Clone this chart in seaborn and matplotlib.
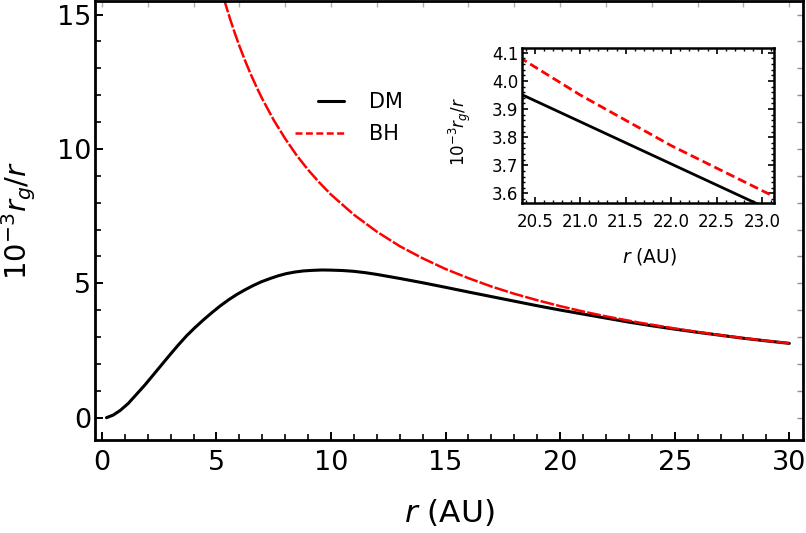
import numpy as np
import matplotlib
matplotlib.use("Agg")
import matplotlib.pyplot as plt
import seaborn as sns
from matplotlib.ticker import MultipleLocator
from matplotlib.lines import Line2D
from matplotlib.legend_handler import HandlerLine2D

# ---- data ----
dm_r = [0.2, 0.5, 0.8, 1.15, 1.5, 1.88, 2.25, 2.6, 2.95, 3.33, 3.7, 4.06, 4.42, 4.79,
        5.15, 5.52, 5.88, 6.24, 6.6, 6.97, 7.35, 7.7, 8.05, 8.43, 8.8, 9.16, 9.6, 10.0,
        10.5, 11.0, 11.5, 12.0, 13.0, 14.0, 15.0, 16.0, 17.0, 18.0, 19.0, 20.0, 20.5,
        21.0, 21.5, 22.0, 22.5, 23.0, 24.0, 25.0, 26.0, 27.0, 28.0, 29.0, 30.0]
dm_v = [0.00, 0.10, 0.27, 0.53, 0.86, 1.22, 1.60, 1.96, 2.32, 2.70, 3.05, 3.35, 3.63,
        3.90, 4.15, 4.38, 4.58, 4.755, 4.915, 5.06, 5.18, 5.28, 5.36, 5.42, 5.46, 5.48,
        5.495, 5.49, 5.475, 5.445, 5.395, 5.33, 5.18, 5.02, 4.85, 4.675, 4.505, 4.335,
        4.165, 4.005, 3.93, 3.855, 3.78, 3.705, 3.63, 3.555, 3.42, 3.294, 3.176, 3.066,
        2.955, 2.857, 2.765]

bh_r = [5.2, 5.4, 5.6, 5.8, 6.0, 6.25, 6.5, 6.75, 7.0, 7.5, 8.0, 8.5, 9.0, 9.5, 10.0,
        11.0, 12.0, 13.0, 14.0, 15.0, 16.0, 17.0, 18.0, 19.0, 20.0, 20.5, 21.0, 21.5,
        22.0, 22.5, 23.0, 23.5, 24.0, 25.0, 26.0, 27.0, 28.0, 29.0, 30.0]
bh_v = [15.96, 15.37, 14.82, 14.31, 13.83, 13.28, 12.77, 12.30, 11.86, 11.07, 10.38,
        9.76, 9.22, 8.74, 8.30, 7.55, 6.92, 6.38, 5.93, 5.53, 5.19, 4.88, 4.61, 4.37,
        4.15, 4.05, 3.95, 3.86, 3.77, 3.69, 3.61, 3.53, 3.46, 3.32, 3.19, 3.07, 2.96,
        2.86, 2.77]

labels = ["DM", "BH"]
main_xticks = [0, 5, 10, 15, 20, 25, 30]
main_yticks = [0, 5, 10, 15]
inset_xticks = [20.5, 21.0, 21.5, 22.0, 22.5, 23.0]
inset_yticks = [3.6, 3.7, 3.8, 3.9, 4.0, 4.1]

sns.set_theme(style="ticks")
plt.rcParams["font.family"] = ["DejaVu Sans"]
plt.rcParams["mathtext.fontset"] = "dejavusans"
plt.rcParams["lines.scale_dashes"] = False
for k in ["text.color", "axes.labelcolor", "xtick.color", "ytick.color",
          "xtick.labelcolor", "ytick.labelcolor", "axes.edgecolor"]:
    plt.rcParams[k] = "black"

fig = plt.figure(figsize=(8.06, 5.33), dpi=100)
ax = fig.add_axes([0.1179, 0.1745, 0.8784, 0.8235])

sns.lineplot(x=dm_r, y=dm_v, ax=ax, color="black", lw=2.2, sort=False)
sns.lineplot(x=bh_r, y=bh_v, ax=ax, color="#ff0000", lw=1.8, sort=False)
ax.lines[-1].set_dashes((10, 1.5))

ax.set_xlim(-0.3, 30.6)
ax.set_ylim(-0.83, 15.5)
ax.set_xticks(main_xticks)
ax.set_yticks(main_yticks)
ax.xaxis.set_minor_locator(MultipleLocator(1))
ax.yaxis.set_minor_locator(MultipleLocator(1))
ax.tick_params(which="both", direction="in", top=False, right=False, color="black")
ax.tick_params(which="major", length=6, width=1.4, labelsize=19.5, labelcolor="black")
ax.tick_params(which="minor", length=4, width=1.2)
ax.tick_params(axis="x", which="major", pad=7.5)
ax.tick_params(axis="y", which="major", pad=2.5)
for s in ax.spines.values():
    s.set_linewidth(2.0)
    s.set_color("black")

sec_x = ax.secondary_xaxis("top")
sec_x.set_xticks(list(range(0, 31, 2)))
sec_x.tick_params(direction="in", length=4, width=1.0, color="#b0b0b0", labeltop=False)
sec_x.spines["top"].set_visible(False)
sec_y = ax.secondary_yaxis("right")
sec_y.set_yticks(list(range(0, 16)))
sec_y.tick_params(direction="in", length=4, width=1.0, color="#909090", labelright=False)
sec_y.spines["right"].set_visible(False)

ax.set_xlabel("$r$ (AU)", fontsize=22.5, color="black")
ax.xaxis.set_label_coords(0.5, -0.13)
ax.set_ylabel("10$^{-3}$$r_g/r$", fontsize=21, color="black")
ax.yaxis.set_label_coords(-0.0805, 0.5)


class ShortHandler(HandlerLine2D):
    def __init__(self, frac=1.0, **kw):
        super().__init__(**kw)
        self.frac = frac

    def get_xdata(self, legend, xdescent, ydescent, width, height, fontsize):
        x1 = -xdescent + width
        x0 = x1 - width * self.frac
        return np.array([x0, x1]), np.array([x0, x1])


h_dm = Line2D([], [], color="black", lw=2.2)
h_bh = Line2D([], [], color="#ff0000", lw=1.8, dashes=(5, 2.5))
leg = ax.legend([h_dm, h_bh], labels, loc="center left",
                bbox_to_anchor=(0.366, 0.7786), bbox_transform=fig.transFigure,
                frameon=False, fontsize=15, handlelength=2.36, handletextpad=1.2,
                labelspacing=0.56, borderpad=0, borderaxespad=0,
                handler_map={h_dm: ShortHandler(frac=0.54), h_bh: ShortHandler(frac=1.0)})
for t in leg.get_texts():
    t.set_color("black")

# ---- inset ----
ins = fig.add_axes([0.6476, 0.6191, 0.3127, 0.2909])
sns.lineplot(x=dm_r, y=dm_v, ax=ins, color="black", lw=2.0, sort=False)
sns.lineplot(x=bh_r, y=bh_v, ax=ins, color="#ff0000", lw=2.0, sort=False)
ins.lines[-1].set_dashes((6.5, 3))
ins.set_xlim(20.36, 23.13)
ins.set_ylim(3.566, 4.117)
ins.set_xticks(inset_xticks)
ins.set_xticklabels([f"{v:.1f}" for v in inset_xticks])
ins.set_yticks(inset_yticks)
ins.set_yticklabels([f"{v:.1f}" for v in inset_yticks])
ins.xaxis.set_minor_locator(MultipleLocator(0.1))
ins.yaxis.set_minor_locator(MultipleLocator(0.02))
ins.tick_params(which="both", direction="in", top=True, right=True, color="black")
ins.tick_params(which="major", length=4, width=1.2, labelsize=12, labelcolor="black")
ins.tick_params(which="minor", length=2, width=1.0)
ins.tick_params(axis="x", which="major", pad=7)
ins.tick_params(axis="y", which="major", pad=2.5)
for s in ins.spines.values():
    s.set_linewidth(1.8)
    s.set_color("black")
ins.set_xlabel("$r$ (AU)", fontsize=13.5, color="black")
ins.xaxis.set_label_coords(0.508, -0.275)
ins.set_ylabel("10$^{-3}$$r_g/r$", fontsize=12, color="black")
ins.yaxis.set_label_coords(-0.195, 0.46)

fig.savefig("out.png", dpi=100)
